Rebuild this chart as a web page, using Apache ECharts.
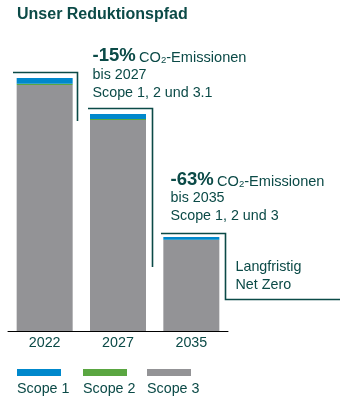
<!DOCTYPE html>
<html>
<head>
<meta charset="utf-8">
<script src="https://cdn.jsdelivr.net/npm/echarts@6/dist/echarts.min.js"></script>
<style>html,body{margin:0;padding:0;background:#fff}#c{width:340px;height:408px}</style>
</head>
<body>
<div id="c"></div>
<script>
var categories = ['2022', '2027', '2035'];
var scope1 = [5.8, 5.0, 2.7];
var scope2 = [1.2, 1.0, 0.3];
var scope3 = [246, 211, 91];
var seriesNames = ['Scope 1', 'Scope 2', 'Scope 3'];
var colors = {'Scope 1': '#0088cc', 'Scope 2': '#5aa641', 'Scope 3': '#939396'};
var teal = '#0b4a47';
var font = '"Liberation Sans", Arial, sans-serif';
var fs = '14.3px ';

var chart = echarts.init(document.getElementById('c'), null, {renderer: 'canvas'});

function richLine(x, y, pct) {
  return {type: 'text', x: x, y: y, z: 10, style: {
    text: '{b|' + pct + '} {n|CO}{s|2}{n|-Emissionen}',
    fill: teal,
    fontFamily: font,
    verticalAlign: 'bottom',
    rich: {
      b: {fontSize: 18.5, fontWeight: 'bold', fill: teal, fontFamily: font, verticalAlign: 'bottom', lineHeight: 20},
      n: {fontSize: 14.6, fill: teal, fontFamily: font, verticalAlign: 'bottom', lineHeight: 17},
      s: {fontSize: 9.5, fill: teal, fontFamily: font, verticalAlign: 'bottom', lineHeight: 12}
    }
  }};
}
function plain(x, y, t) {
  return {type: 'text', x: x, y: y, z: 10, style: {text: t, fill: teal, font: fs + font, verticalAlign: 'middle'}};
}
function line(points) {
  return {type: 'polyline', shape: {points: points}, style: {stroke: teal, lineWidth: 1.6, fill: null}, z: 10};
}

var graphics = [
  line([[13, 72.5], [77.5, 72.5], [77.5, 121]]),
  line([[88, 108.5], [152.5, 108.5], [152.5, 267]]),
  line([[161, 233.5], [225.5, 233.5], [225.5, 299.5], [340, 299.5]]),
  richLine(92.5, 65, '-15%'),
  plain(92.5, 75, 'bis 2027'),
  plain(92.5, 93, 'Scope 1, 2 und 3.1'),
  richLine(170.5, 189, '-63%'),
  plain(170.5, 198, 'bis 2035'),
  plain(170.5, 216.5, 'Scope 1, 2 und 3'),
  plain(235.5, 267, 'Langfristig'),
  plain(235.5, 285, 'Net Zero')
];
var legendX = [17, 83, 147];
seriesNames.forEach(function (n, i) {
  graphics.push({type: 'rect', shape: {x: legendX[i], y: 369, width: 44, height: 7}, style: {fill: colors[n]}, z: 10});
  graphics.push(plain(legendX[i], 389.5, n));
});

chart.setOption({
  animation: false,
  title: {text: 'Unser Reduktionspfad', left: 17, top: 7, padding: 0,
    textStyle: {fontSize: 16, fontWeight: 'bold', color: teal, fontFamily: font}},
  grid: {left: 8, right: 112, top: 31, bottom: 77},
  xAxis: {type: 'category', data: categories,
    axisLine: {lineStyle: {color: '#000', width: 1}},
    axisTick: {show: false},
    axisLabel: {color: teal, fontSize: 14.3, fontFamily: font, margin: 5}},
  yAxis: {type: 'value', min: 0, max: 300, show: false, splitLine: {show: false}},
  series: [
    {name: 'Scope 3', type: 'bar', stack: 't', data: scope3, barWidth: 56, itemStyle: {color: colors['Scope 3']}},
    {name: 'Scope 2', type: 'bar', stack: 't', data: scope2, barWidth: 56, itemStyle: {color: colors['Scope 2']}},
    {name: 'Scope 1', type: 'bar', stack: 't', data: scope1, barWidth: 56, itemStyle: {color: colors['Scope 1']}}
  ],
  graphic: graphics
});
</script>
</body>
</html>
